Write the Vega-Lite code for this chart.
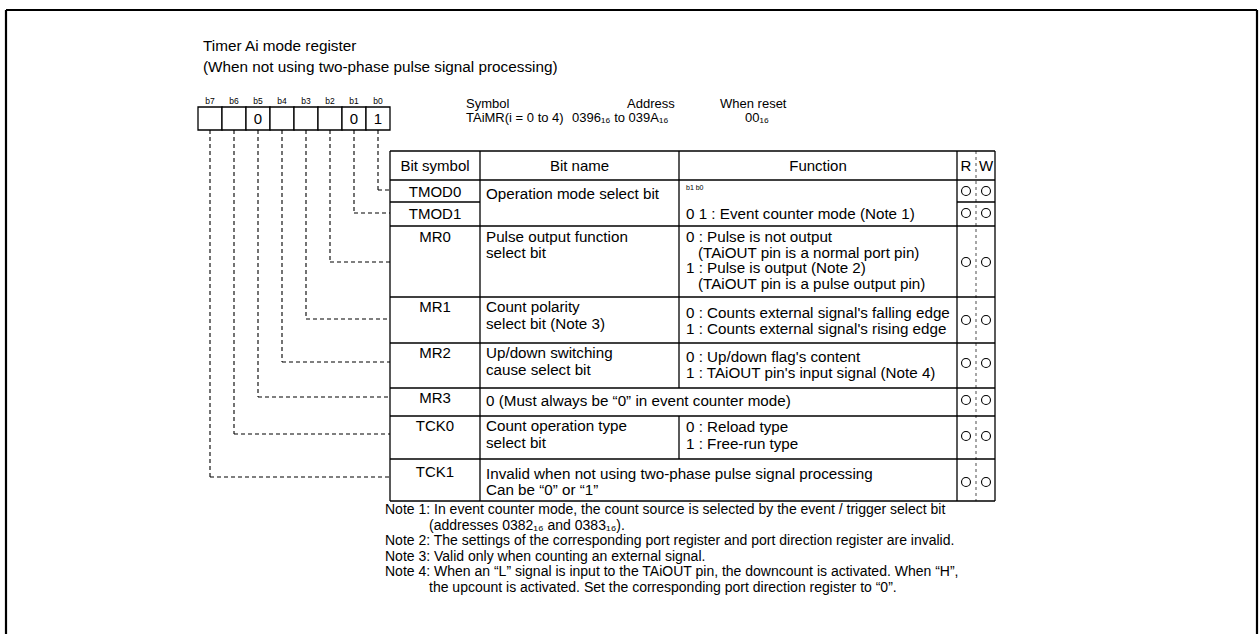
{
  "$schema": "https://vega.github.io/schema/vega-lite/v6.json",
  "width": 1259,
  "height": 634,
  "padding": 0,
  "autosize": {"type": "none"},
  "background": "white",
  "config": {"view": {"stroke": null}},
  "datasets": {
    "frame": [
      {"x": 6, "y": 10, "x2": 6, "y2": 640},
      {"x": 6, "y": 10, "x2": 1257, "y2": 10},
      {"x": 1257, "y": 10, "x2": 1257, "y2": 640}
    ],
    "grid": [
      {"x": 390, "y": 151, "x2": 995, "y2": 151},
      {"x": 390, "y": 180, "x2": 995, "y2": 180},
      {"x": 390, "y": 202, "x2": 480, "y2": 202},
      {"x": 957, "y": 202, "x2": 995, "y2": 202},
      {"x": 390, "y": 226, "x2": 995, "y2": 226},
      {"x": 390, "y": 297, "x2": 995, "y2": 297},
      {"x": 390, "y": 343, "x2": 995, "y2": 343},
      {"x": 390, "y": 388, "x2": 995, "y2": 388},
      {"x": 390, "y": 416, "x2": 995, "y2": 416},
      {"x": 390, "y": 459, "x2": 995, "y2": 459},
      {"x": 390, "y": 501, "x2": 995, "y2": 501},
      {"x": 390, "y": 151, "x2": 390, "y2": 501},
      {"x": 480, "y": 151, "x2": 480, "y2": 501},
      {"x": 679, "y": 151, "x2": 679, "y2": 388},
      {"x": 679, "y": 416, "x2": 679, "y2": 459},
      {"x": 957, "y": 151, "x2": 957, "y2": 501},
      {"x": 995, "y": 151, "x2": 995, "y2": 501}
    ],
    "rwDivider": [
      {"x": 976, "y": 151, "x2": 976, "y2": 501}
    ],
    "connectors": [
      {"bit": "b0", "x": 378, "y": 130, "x2": 378, "y2": 190},
      {"bit": "b0", "x": 378, "y": 190, "x2": 390, "y2": 190},
      {"bit": "b1", "x": 354, "y": 130, "x2": 354, "y2": 213},
      {"bit": "b1", "x": 354, "y": 213, "x2": 390, "y2": 213},
      {"bit": "b2", "x": 330, "y": 130, "x2": 330, "y2": 262},
      {"bit": "b2", "x": 330, "y": 262, "x2": 390, "y2": 262},
      {"bit": "b3", "x": 306, "y": 130, "x2": 306, "y2": 319},
      {"bit": "b3", "x": 306, "y": 319, "x2": 390, "y2": 319},
      {"bit": "b4", "x": 282, "y": 130, "x2": 282, "y2": 362},
      {"bit": "b4", "x": 282, "y": 362, "x2": 390, "y2": 362},
      {"bit": "b5", "x": 258, "y": 130, "x2": 258, "y2": 397},
      {"bit": "b5", "x": 258, "y": 397, "x2": 390, "y2": 397},
      {"bit": "b6", "x": 234, "y": 130, "x2": 234, "y2": 434},
      {"bit": "b6", "x": 234, "y": 434, "x2": 390, "y2": 434},
      {"bit": "b7", "x": 210, "y": 130, "x2": 210, "y2": 477},
      {"bit": "b7", "x": 210, "y": 477, "x2": 390, "y2": 477}
    ],
    "boxes": [
      {"bit": "b7", "x": 198, "x2": 222, "y": 107, "y2": 130},
      {"bit": "b6", "x": 222, "x2": 246, "y": 107, "y2": 130},
      {"bit": "b5", "x": 246, "x2": 270, "y": 107, "y2": 130},
      {"bit": "b4", "x": 270, "x2": 294, "y": 107, "y2": 130},
      {"bit": "b3", "x": 294, "x2": 318, "y": 107, "y2": 130},
      {"bit": "b2", "x": 318, "x2": 342, "y": 107, "y2": 130},
      {"bit": "b1", "x": 342, "x2": 366, "y": 107, "y2": 130},
      {"bit": "b0", "x": 366, "x2": 390, "y": 107, "y2": 130}
    ],
    "bitLabels": [
      {"x": 210, "y": 101, "text": "b7"},
      {"x": 234, "y": 101, "text": "b6"},
      {"x": 258, "y": 101, "text": "b5"},
      {"x": 282, "y": 101, "text": "b4"},
      {"x": 306, "y": 101, "text": "b3"},
      {"x": 330, "y": 101, "text": "b2"},
      {"x": 354, "y": 101, "text": "b1"},
      {"x": 378, "y": 101, "text": "b0"}
    ],
    "bitValues": [
      {"x": 258, "y": 119, "text": "0"},
      {"x": 354, "y": 119, "text": "0"},
      {"x": 378, "y": 119, "text": "1"}
    ],
    "titleText": [
      {"x": 203, "y": 46, "text": "Timer Ai mode register"},
      {"x": 203, "y": 67, "text": "(When not using two-phase pulse signal processing)"}
    ],
    "symbolText": [
      {"x": 466, "y": 104, "text": "Symbol"},
      {"x": 627, "y": 104, "text": "Address"},
      {"x": 720, "y": 104, "text": "When reset"},
      {"x": 466, "y": 118, "text": "TAiMR(i = 0 to 4)"},
      {"x": 572, "y": 118, "text": "0396₁₆ to 039A₁₆"},
      {"x": 745, "y": 118, "text": "00₁₆"}
    ],
    "centerText": [
      {"x": 435, "y": 165.5, "text": "Bit symbol"},
      {"x": 579.5, "y": 165.5, "text": "Bit name"},
      {"x": 818, "y": 165.5, "text": "Function"},
      {"x": 966, "y": 165.5, "text": "R"},
      {"x": 986, "y": 165.5, "text": "W"},
      {"x": 435, "y": 191.5, "text": "TMOD0"},
      {"x": 435, "y": 214, "text": "TMOD1"},
      {"x": 435, "y": 237, "text": "MR0"},
      {"x": 435, "y": 307, "text": "MR1"},
      {"x": 435, "y": 353, "text": "MR2"},
      {"x": 435, "y": 398, "text": "MR3"},
      {"x": 435, "y": 426, "text": "TCK0"},
      {"x": 435, "y": 472, "text": "TCK1"}
    ],
    "cellText": [
      {"x": 486, "y": 194, "text": "Operation mode select bit"},
      {"x": 486, "y": 237, "text": "Pulse output function"},
      {"x": 486, "y": 253, "text": "select bit"},
      {"x": 486, "y": 307, "text": "Count polarity"},
      {"x": 486, "y": 324, "text": "select bit (Note 3)"},
      {"x": 486, "y": 353, "text": "Up/down switching"},
      {"x": 486, "y": 370, "text": "cause select bit"},
      {"x": 486, "y": 401, "text": "0 (Must always be “0” in event counter mode)"},
      {"x": 486, "y": 426, "text": "Count operation type"},
      {"x": 486, "y": 443, "text": "select bit"},
      {"x": 486, "y": 474, "text": "Invalid when not using two-phase pulse signal processing"},
      {"x": 486, "y": 490, "text": "Can be “0” or “1”"},
      {"x": 686, "y": 214, "text": "0 1 : Event counter mode (Note 1)"},
      {"x": 686, "y": 237, "text": "0 : Pulse is not output"},
      {"x": 698, "y": 252.5, "text": "(TAiOUT pin is a normal port pin)"},
      {"x": 686, "y": 268, "text": "1 : Pulse is output (Note 2)"},
      {"x": 698, "y": 284, "text": "(TAiOUT pin is a pulse output pin)"},
      {"x": 686, "y": 313, "text": "0 : Counts external signal's falling edge"},
      {"x": 686, "y": 329, "text": "1 : Counts external signal's rising edge"},
      {"x": 686, "y": 357, "text": "0 : Up/down flag's content"},
      {"x": 686, "y": 373, "text": "1 : TAiOUT pin's input signal (Note 4)"},
      {"x": 686, "y": 427, "text": "0 : Reload type"},
      {"x": 686, "y": 444, "text": "1 : Free-run type"}
    ],
    "tinyText": [
      {"x": 686, "y": 188, "text": "b1 b0"}
    ],
    "circles": [
      {"row": "TMOD0", "x": 966, "y": 191}, {"row": "TMOD0", "x": 986, "y": 191},
      {"row": "TMOD1", "x": 966, "y": 213}, {"row": "TMOD1", "x": 986, "y": 213},
      {"row": "MR0", "x": 966, "y": 262}, {"row": "MR0", "x": 986, "y": 262},
      {"row": "MR1", "x": 966, "y": 320}, {"row": "MR1", "x": 986, "y": 320},
      {"row": "MR2", "x": 966, "y": 363}, {"row": "MR2", "x": 986, "y": 363},
      {"row": "MR3", "x": 966, "y": 400}, {"row": "MR3", "x": 986, "y": 400},
      {"row": "TCK0", "x": 966, "y": 436}, {"row": "TCK0", "x": 986, "y": 436},
      {"row": "TCK1", "x": 966, "y": 482}, {"row": "TCK1", "x": 986, "y": 482}
    ],
    "noteText": [
      {"x": 385, "y": 510, "text": "Note 1: In event counter mode, the count source is selected by the event / trigger select bit"},
      {"x": 429, "y": 525.6, "text": "(addresses 0382₁₆ and 0383₁₆)."},
      {"x": 385, "y": 541.2, "text": "Note 2: The settings of the corresponding port register and port direction register are invalid."},
      {"x": 385, "y": 556.8, "text": "Note 3: Valid only when counting an external signal."},
      {"x": 385, "y": 572.4, "text": "Note 4: When an “L” signal is input to the TAiOUT pin, the downcount is activated. When “H”,"},
      {"x": 429, "y": 588, "text": "the upcount is activated. Set the corresponding port direction register to “0”."}
    ]
  },
  "encoding": {
    "x": {"field": "x", "type": "quantitative", "scale": {"domain": [0, 1259], "range": [0, 1259], "nice": false, "zero": false}, "axis": null},
    "y": {"field": "y", "type": "quantitative", "scale": {"domain": [0, 634], "range": [0, 634], "nice": false, "zero": false}, "axis": null}
  },
  "layer": [
    {
      "data": {"name": "frame"},
      "mark": {"type": "rule", "color": "black", "strokeWidth": 2.2, "clip": true},
      "encoding": {"x2": {"field": "x2"}, "y2": {"field": "y2"}}
    },
    {
      "data": {"name": "connectors"},
      "mark": {"type": "rule", "color": "black", "strokeWidth": 1.1, "strokeDash": [4, 3]},
      "encoding": {"x2": {"field": "x2"}, "y2": {"field": "y2"}}
    },
    {
      "data": {"name": "boxes"},
      "mark": {"type": "rect", "fill": "white", "stroke": "black", "strokeWidth": 1.3},
      "encoding": {"x2": {"field": "x2"}, "y2": {"field": "y2"}}
    },
    {
      "data": {"name": "grid"},
      "mark": {"type": "rule", "color": "black", "strokeWidth": 1.3},
      "encoding": {"x2": {"field": "x2"}, "y2": {"field": "y2"}}
    },
    {
      "data": {"name": "rwDivider"},
      "mark": {"type": "rule", "color": "black", "strokeWidth": 0.7, "strokeDash": [3, 3]},
      "encoding": {"x2": {"field": "x2"}, "y2": {"field": "y2"}}
    },
    {
      "data": {"name": "circles"},
      "mark": {"type": "point", "shape": "circle", "filled": false, "stroke": "black", "strokeWidth": 1.1, "size": 80, "opacity": 1}
    },
    {
      "data": {"name": "bitLabels"},
      "mark": {"type": "text", "font": "Liberation Sans", "fontSize": 8.5, "align": "center", "baseline": "middle", "color": "black"},
      "encoding": {"text": {"field": "text"}}
    },
    {
      "data": {"name": "bitValues"},
      "mark": {"type": "text", "font": "Liberation Sans", "fontSize": 15, "align": "center", "baseline": "middle", "color": "black"},
      "encoding": {"text": {"field": "text"}}
    },
    {
      "data": {"name": "titleText"},
      "mark": {"type": "text", "font": "Liberation Sans", "fontSize": 15.3, "align": "left", "baseline": "middle", "color": "black"},
      "encoding": {"text": {"field": "text"}}
    },
    {
      "data": {"name": "symbolText"},
      "mark": {"type": "text", "font": "Liberation Sans", "fontSize": 13, "align": "left", "baseline": "middle", "color": "black"},
      "encoding": {"text": {"field": "text"}}
    },
    {
      "data": {"name": "centerText"},
      "mark": {"type": "text", "font": "Liberation Sans", "fontSize": 15, "align": "center", "baseline": "middle", "color": "black"},
      "encoding": {"text": {"field": "text"}}
    },
    {
      "data": {"name": "cellText"},
      "mark": {"type": "text", "font": "Liberation Sans", "fontSize": 15.2, "align": "left", "baseline": "middle", "color": "black"},
      "encoding": {"text": {"field": "text"}}
    },
    {
      "data": {"name": "tinyText"},
      "mark": {"type": "text", "font": "Liberation Sans", "fontSize": 7, "align": "left", "baseline": "middle", "color": "black"},
      "encoding": {"text": {"field": "text"}}
    },
    {
      "data": {"name": "noteText"},
      "mark": {"type": "text", "font": "Liberation Sans", "fontSize": 14, "align": "left", "baseline": "middle", "color": "black"},
      "encoding": {"text": {"field": "text"}}
    }
  ]
}
